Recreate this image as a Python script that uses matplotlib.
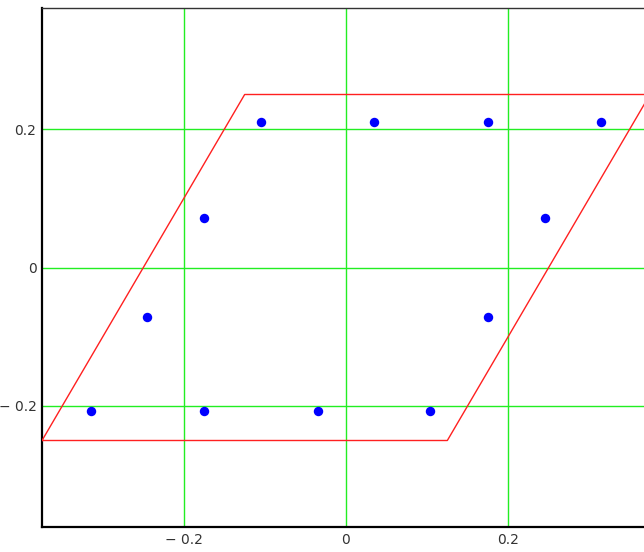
import matplotlib.pyplot as plt

# outline (closed parallelogram)
outline_x = [-0.375, 0.125, 0.375, -0.125, -0.375]
outline_y = [-0.25, -0.25, 0.25, 0.25, -0.25]

# points
pts_x = [-0.105, 0.035, 0.175, 0.315,
         -0.175, 0.245,
         -0.245, 0.175,
         -0.315, -0.175, -0.035, 0.104]
pts_y = [0.21, 0.21, 0.21, 0.21,
         0.071, 0.071,
         -0.071, -0.071,
         -0.208, -0.208, -0.208, -0.208]

ticks = [-0.2, 0, 0.2]
tick_labels = ['\u2212 0.2', '0', '0.2']

fig = plt.figure(figsize=(6.44, 5.52), dpi=100)
ax = fig.add_axes([42/644, 25/552, 608/644, 519/552])

ax.plot(outline_x, outline_y, color='#ff2020', lw=1.0, zorder=3)
ax.plot(pts_x, pts_y, 'o', color='#0000ff', ms=6.8, mew=0, zorder=4)

ax.set_xlim(-0.375, 0.375)
ax.set_ylim(-0.375, 0.375)
ax.set_xticks(ticks)
ax.set_xticklabels(tick_labels)
ax.set_yticks(ticks)
ax.set_yticklabels(tick_labels)
ax.tick_params(length=0, labelsize=10, labelcolor='#333333', pad=4)
ax.grid(True, color='#22ee22', lw=1.0)
ax.set_axisbelow(True)

for side in ['left', 'bottom']:
    ax.spines[side].set_linewidth(1.6)
    ax.spines[side].set_color('black')
ax.spines['top'].set_linewidth(1.0)
ax.spines['top'].set_color('#333333')
ax.spines['right'].set_visible(False)

fig.savefig('out.png', dpi=100)
